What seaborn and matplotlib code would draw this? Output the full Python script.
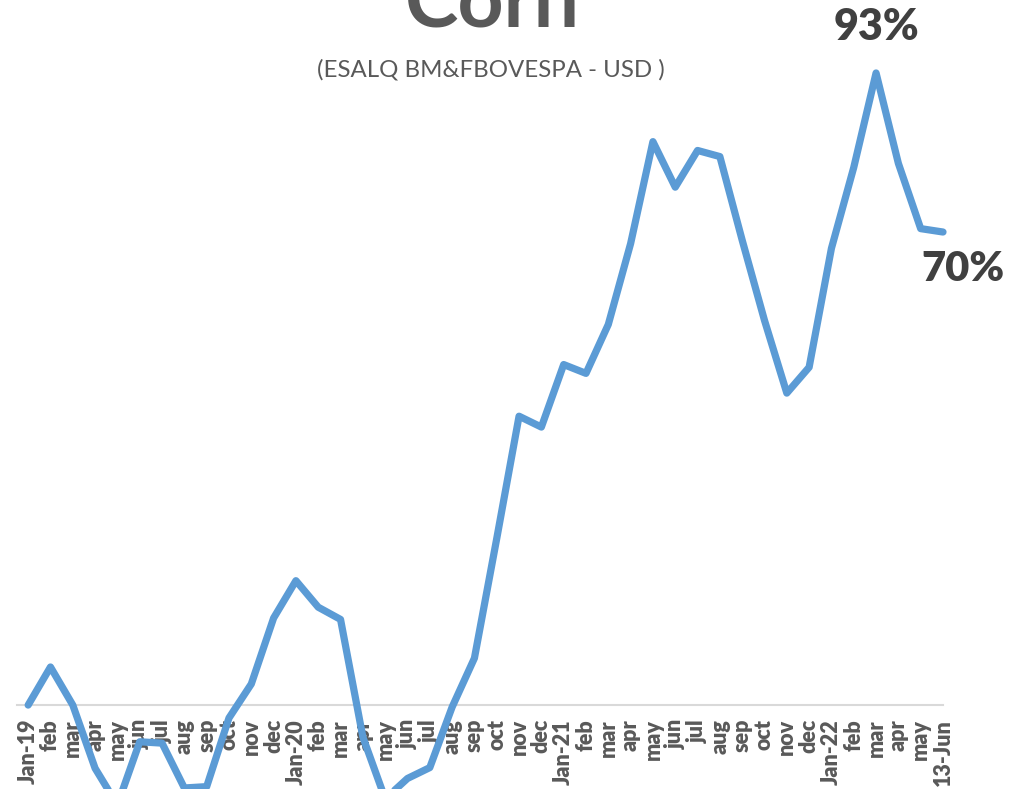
import matplotlib
matplotlib.use("Agg")
import matplotlib.pyplot as plt
import seaborn as sns
import pandas as pd

months = ["Jan-19", "feb", "mar", "apr", "may", "jun", "jul", "aug", "sep", "oct", "nov", "dec",
          "Jan-20", "feb", "mar", "apr", "may", "jun", "jul", "aug", "sep", "oct", "nov", "dec",
          "Jan-21", "feb", "mar", "apr", "may", "jun", "jul", "aug", "sep", "oct", "nov", "dec",
          "Jan-22", "feb", "mar", "apr", "may", "13-Jun"]
values = [0, 5.6, 0, -9.3, -14.7, -5.4, -5.6, -12.2, -12.0, -1.9, 3.1, 12.8,
          18.3, 14.4, 12.6, -4.7, -13.8, -10.8, -9.2, -0.3, 6.9, 24.5, 42.5, 40.9,
          50.1, 48.8, 56.0, 67.9, 82.9, 76.2, 81.6, 80.7, 68.4, 56.6, 45.9, 49.7,
          67.2, 79.1, 93.0, 79.7, 70.1, 69.6]
title = "Corn"
subtitle = "(ESALQ BM&FBOVESPA - USD )"
peak_label = "93%"
last_label = "70%"

df = pd.DataFrame({"idx": range(len(values)), "val": values})

sns.set_style("white")
plt.rcParams["font.family"] = ["Lato", "DejaVu Sans"]

fig = plt.figure(figsize=(10.14, 7.89), dpi=100)
ax = fig.add_axes([17 / 1014, -0.0659, 926 / 1014, 1.0337])

sns.lineplot(data=df, x="idx", y="val", ax=ax, color="#5B9BD5", linewidth=5.2,
             sort=False, clip_on=False, solid_capstyle="round", solid_joinstyle="round")

ax.set_xlim(-0.5, 41)
ax.set_ylim(-20, 100)
for s in ["top", "right", "left"]:
    ax.spines[s].set_visible(False)
ax.spines["bottom"].set_position(("data", 0))
ax.spines["bottom"].set_color("#d9d9d9")
ax.spines["bottom"].set_linewidth(1.5)
ax.spines["bottom"].set_zorder(0)
ax.set_yticks([])
ax.set_xticks(range(len(months)))
ax.set_xticklabels(months, rotation=90, fontsize=15.5, fontweight="heavy", color="#595959")
ax.tick_params(axis="x", length=0, pad=10)
ax.set_xlabel("")
ax.set_ylabel("")

fig.text(492 / 1014, 1 - 28 / 789, title, ha="center", va="baseline", fontsize=58,
         fontweight="bold", color="#595959")
fig.text(491 / 1014, 1 - 70 / 789, subtitle, ha="center", va="center", fontsize=17.3,
         color="#595959")

ax.annotate(peak_label, xy=(38, values[38]), xytext=(0, 46), textcoords="offset pixels",
            ha="center", va="center", fontsize=31, fontweight="heavy", color="#404040",
            annotation_clip=False)
ax.annotate(last_label, xy=(41, values[41]), xytext=(20, -37), textcoords="offset pixels",
            ha="center", va="center", fontsize=30, fontweight="heavy", color="#404040",
            annotation_clip=False)

fig.savefig("out.png", dpi=100)
